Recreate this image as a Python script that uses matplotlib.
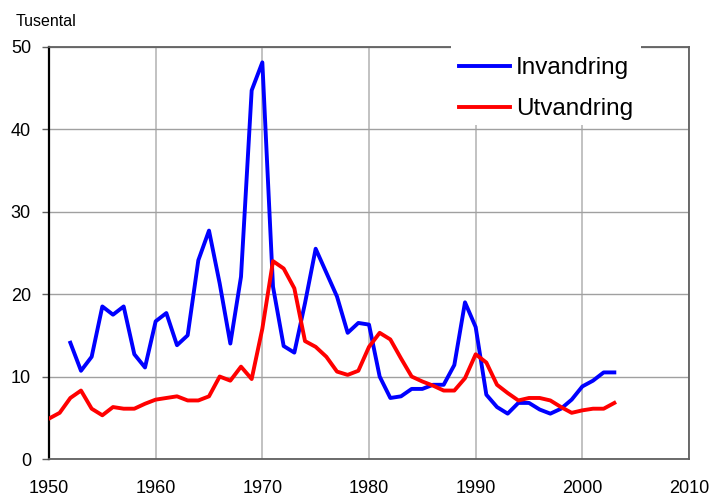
import matplotlib
matplotlib.use("Agg")
import matplotlib.pyplot as plt
from matplotlib.patches import Rectangle

plt.rcParams['font.family'] = ['Liberation Sans', 'DejaVu Sans']

years_inn = list(range(1952, 2004))
invandring = [14.1, 10.7, 12.4, 18.5, 17.5, 18.5, 12.7, 11.1, 16.7, 17.7,
              13.8, 15.0, 24.1, 27.7, 21.3, 14.0, 22.1, 44.7, 48.1, 20.9,
              13.7, 12.9, 18.9, 25.5, 22.6, 19.7, 15.3, 16.5, 16.3, 10.0,
              7.4, 7.6, 8.5, 8.5, 9.0, 9.0, 11.4, 19.0, 16.0, 7.8,
              6.3, 5.5, 6.8, 6.8, 6.0, 5.5, 6.1, 7.2, 8.8, 9.5,
              10.5, 10.5]

years_utv = list(range(1950, 2004))
utvandring = [4.9, 5.6, 7.4, 8.3, 6.1, 5.3, 6.3, 6.1, 6.1, 6.7,
              7.2, 7.4, 7.6, 7.1, 7.1, 7.6, 10.0, 9.5, 11.2, 9.7,
              15.8, 24.0, 23.1, 20.7, 14.3, 13.6, 12.4, 10.6, 10.2, 10.7,
              13.6, 15.3, 14.5, 12.2, 10.0, 9.4, 8.9, 8.3, 8.3, 9.8,
              12.7, 11.7, 9.0, 8.0, 7.1, 7.4, 7.4, 7.1, 6.3, 5.6,
              5.9, 6.1, 6.1, 6.8]

W, H = 714, 497
fig = plt.figure(figsize=(W / 100, H / 100), dpi=100)
ax = fig.add_axes([49 / W, 38 / H, (689 - 49) / W, (459 - 46.7) / H])

ax.plot(years_inn, invandring, color='#0000ff', lw=2.8, label='Invandring', zorder=3)
ax.plot(years_utv, utvandring, color='#ff0000', lw=2.8, label='Utvandring', zorder=3)

ax.set_xlim(1950, 2010)
ax.set_ylim(0, 50)
ax.set_xticks(range(1950, 2011, 10))
ax.set_yticks(range(0, 51, 10))
ax.grid(axis='y', color='#a0a0a0', lw=1.0)
ax.grid(axis='x', color='#b8b8b8', lw=1.2)
ax.set_axisbelow(True)

ax.tick_params(axis='y', direction='out', length=5, width=1, color='#606060',
               labelsize=13, pad=8)
ax.tick_params(axis='x', length=0, labelsize=13, pad=15)

ax.spines['left'].set_color('black')
ax.spines['left'].set_linewidth(1.6)
for s in ['top', 'right', 'bottom']:
    ax.spines[s].set_color('#606060')
    ax.spines[s].set_linewidth(1.3)

# white box behind the legend, breaking the top frame
box = Rectangle((451 / W, 1 - 125 / H), (641 - 451) / W, (125 - 40) / H,
                transform=fig.transFigure, facecolor='white', edgecolor='none',
                clip_on=False, zorder=4)
ax.add_patch(box)

leg = ax.legend(loc='upper left', bbox_to_anchor=(459 / W, 1 - 57 / H),
                bbox_transform=fig.transFigure, fontsize=17.5, frameon=False,
                handlelength=2.1, handletextpad=0.25, labelspacing=0.8,
                borderpad=0, borderaxespad=0)
leg.set_zorder(5)

fig.text(16 / W, 1 - 22 / H, 'Tusental', fontsize=11.5, va='center', ha='left')

fig.savefig('out.png', dpi=100)
